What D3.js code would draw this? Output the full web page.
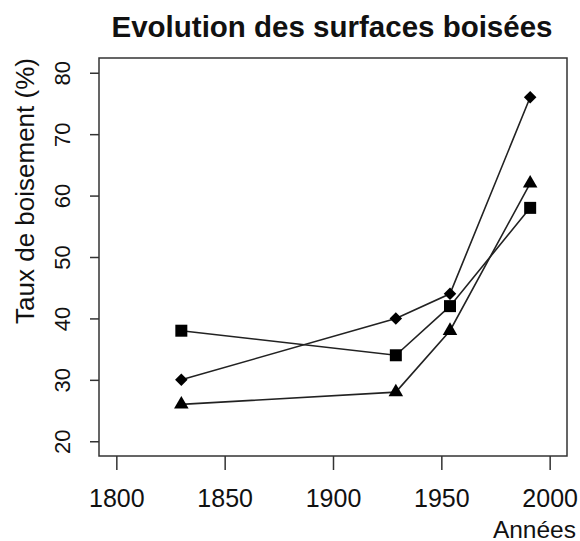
<!DOCTYPE html>
<html>
<head>
<meta charset="utf-8">
<script src="https://cdn.jsdelivr.net/npm/d3@7"></script>
<style>
  body { margin: 0; background: #fff; }
  text { font-family: "Liberation Sans", Arial, sans-serif; fill: #111; }
</style>
</head>
<body>
<div id="chart"></div>
<script>
// data
var years = [1830, 1929, 1954, 1991];
var seriesDiamond = [30, 40, 44, 76];
var seriesSquare = [38, 34, 42, 58];
var seriesTriangle = [26, 28, 38, 62];
var xTicks = [1800, 1850, 1900, 1950, 2000];
var yTicks = [20, 30, 40, 50, 60, 70, 80];

var width = 580, height = 541;
var box = { left: 99, right: 567, top: 58, bottom: 456 };

// R style: limits extended by 4%
var x = d3.scaleLinear().domain([1792, 2008]).range([box.left, box.right]);
var y = d3.scaleLinear().domain([17.6, 82.4]).range([box.bottom, box.top]);

var svg = d3.select("#chart").append("svg")
  .attr("width", width)
  .attr("height", height);

svg.append("text")
  .attr("x", 332)
  .attr("y", 37)
  .attr("text-anchor", "middle")
  .style("font-size", "29.5px")
  .style("font-weight", "bold")
  .text("Evolution des surfaces boisées");

// axes
var xAxis = svg.append("g")
  .attr("transform", "translate(0," + box.bottom + ")")
  .call(d3.axisBottom(x).tickValues(xTicks).tickSize(14).tickFormat(d3.format("d")));
var yAxis = svg.append("g")
  .attr("transform", "translate(" + box.left + ",0)")
  .call(d3.axisLeft(y).tickValues(yTicks).tickSize(9).tickFormat(d3.format("d")));

[xAxis, yAxis].forEach(function(a) {
  a.select(".domain").remove();
  a.selectAll(".tick line").attr("stroke", "#333").attr("stroke-width", 1.5);
  a.selectAll(".tick text").attr("fill", "#111")
    .style("font-family", "'Liberation Sans', Arial, sans-serif");
});

xAxis.selectAll(".tick text")
  .attr("y", 51).attr("dy", null)
  .style("font-size", "25px");

yAxis.selectAll(".tick text")
  .attr("x", null).attr("dy", null)
  .attr("text-anchor", "middle")
  .style("font-size", "22px")
  .attr("transform", "translate(-29,0) rotate(-90)");

svg.append("rect")
  .attr("x", box.left).attr("y", box.top)
  .attr("width", box.right - box.left).attr("height", box.bottom - box.top)
  .attr("fill", "none").attr("stroke", "#333").attr("stroke-width", 1.5);

svg.append("text")
  .attr("transform", "translate(34,191) rotate(-90)")
  .attr("text-anchor", "middle")
  .style("font-size", "26px")
  .text("Taux de boisement (%)");

svg.append("text")
  .attr("x", 576).attr("y", 538)
  .attr("text-anchor", "end")
  .style("font-size", "24.5px")
  .text("Années");

var line = d3.line()
  .x(function(d, i) { return x(years[i]); })
  .y(function(d) { return y(d); });

var series = [
  { values: seriesSquare, symbol: d3.symbolSquare, size: 144 },
  { values: seriesTriangle, symbol: d3.symbolTriangle, size: 92 },
  { values: seriesDiamond, symbol: d3.symbolDiamond2, size: 100 }
];

series.forEach(function(s) {
  svg.append("path")
    .attr("d", line(s.values))
    .attr("fill", "none")
    .attr("stroke", "#222")
    .attr("stroke-width", 1.6);
  svg.selectAll(null)
    .data(s.values)
    .enter().append("path")
    .attr("d", d3.symbol().type(s.symbol).size(s.size))
    .attr("transform", function(d, i) { return "translate(" + x(years[i]) + "," + y(d) + ")"; })
    .attr("fill", "#000");
});
</script>
</body>
</html>
